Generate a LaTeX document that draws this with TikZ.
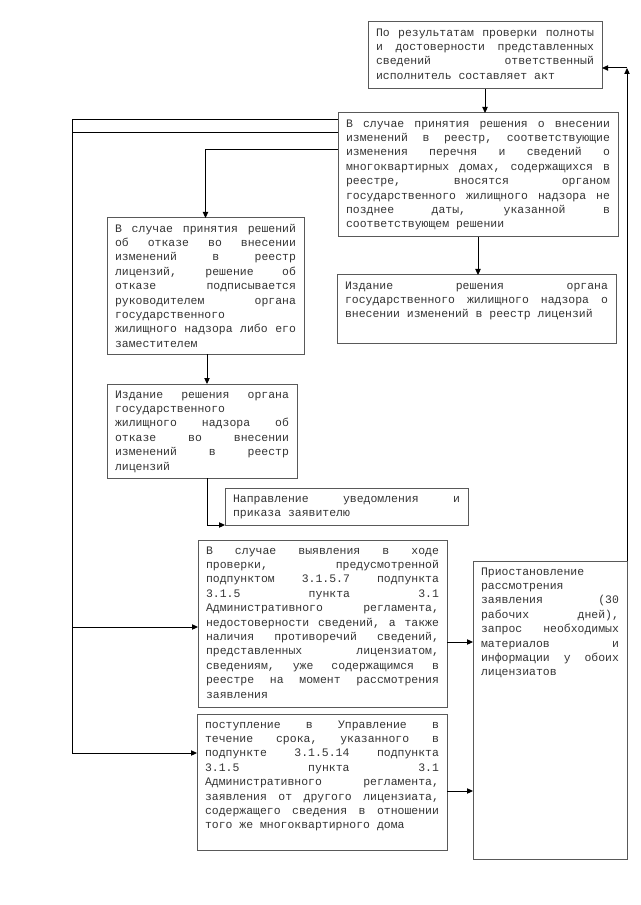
\documentclass[tikz,border=0pt]{standalone}
\usepackage{fontspec}
\setmainfont{Liberation Mono}
\usetikzlibrary{arrows.meta}
\definecolor{boxgray}{gray}{0.35}
\definecolor{txtgray}{gray}{0.2}
\frenchspacing
\newcommand\jline[1]{\hbox to\linewidth{\spaceskip=0.6em plus 1fil\relax\strut #1}}
\newcommand\lline[1]{\hbox{\strut #1}}
\newcommand\mkbox[6]{\node[bx] (#1) at (#2,#3) {\parbox[c][\dimexpr0.75pt*#5-6pt\relax][t]{\dimexpr0.75pt*#4-12pt\relax}{#6}};}
\begin{document}
\begin{tikzpicture}[x=0.75pt,y=-0.75pt,
  bx/.style={draw=boxgray, text=txtgray, line width=0.75pt, anchor=north west, inner xsep=6pt, inner ysep=3pt, outer sep=0pt, font=\fontsize{8.6}{10.8}\selectfont},
  arr/.style={draw=black, line width=0.75pt, -{Triangle[length=4.5pt,width=4pt]}},
  ln/.style={draw=black, line width=0.75pt}]
\useasboundingbox (0,0) rectangle (640,905);

\mkbox{b1}{368}{22}{234}{67}{%
\jline{По результатам проверки полноты}
\jline{и достоверности представленных}
\jline{сведений ответственный}
\lline{исполнитель составляет акт}}

\mkbox{b2}{338}{113}{280}{124}{%
\jline{В случае принятия решения о внесении}
\jline{изменений в реестр, соответствующие}
\jline{изменения перечня и сведений о}
\jline{многоквартирных домах, содержащихся в}
\jline{реестре, вносятся органом}
\jline{государственного жилищного надзора не}
\jline{позднее даты, указанной в}
\lline{соответствующем решении}}

\mkbox{b3}{337}{275}{279}{68}{%
\jline{Издание решения органа}
\jline{государственного жилищного надзора о}
\lline{внесении изменений в реестр лицензий}}

\mkbox{b4}{107}{218}{197}{136}{%
\jline{В случае принятия решений}
\jline{об отказе во внесении}
\jline{изменений в реестр}
\jline{лицензий, решение об}
\jline{отказе подписывается}
\jline{руководителем органа}
\lline{государственного}
\jline{жилищного надзора либо его}
\lline{заместителем}}

\mkbox{b5}{107}{384}{190}{94}{%
\jline{Издание решения органа}
\lline{государственного}
\jline{жилищного надзора об}
\jline{отказе во внесении}
\jline{изменений в реестр}
\lline{лицензий}}

\mkbox{b6}{225}{488}{243}{37}{%
\jline{Направление уведомления и}
\lline{приказа заявителю}}

\mkbox{b7}{198}{540}{249}{167}{%
\jline{В случае выявления в ходе}
\jline{проверки, предусмотренной}
\jline{подпунктом 3.1.5.7 подпункта}
\jline{3.1.5 пункта 3.1}
\jline{Административного регламента,}
\jline{недостоверности сведений, а также}
\jline{наличия противоречий сведений,}
\jline{представленных лицензиатом,}
\jline{сведениям, уже содержащимся в}
\jline{реестре на момент рассмотрения}
\lline{заявления}}

\mkbox{b8}{197}{714}{250}{136}{%
\jline{поступление в Управление в}
\jline{течение срока, указанного в}
\jline{подпункте 3.1.5.14 подпункта}
\jline{3.1.5 пункта 3.1}
\jline{Административного регламента,}
\jline{заявления от другого лицензиата,}
\jline{содержащего сведения в отношении}
\lline{того же многоквартирного дома}}

\mkbox{b9}{473}{561}{154}{298}{%
\lline{Приостановление}
\lline{рассмотрения}
\jline{заявления (30}
\jline{рабочих дней),}
\jline{запрос необходимых}
\jline{материалов и}
\jline{информации у обоих}
\lline{лицензиатов}}

\coordinate (bl1) at (72,120);
\coordinate (bl2) at (72,133);
\coordinate (bl7) at (72,627);
\coordinate (bl8) at (72,753);
\coordinate (bt4) at (0,150);
\coordinate (r7) at (0,642);
\coordinate (r8) at (0,791);
\coordinate (up) at (627,68);
\coordinate (d5) at (207,0);

\draw[arr] (b1.south) -- (b1.south |- b2.north);
\draw[arr] (b2.south) -- (b2.south |- b3.north);
\draw[ln] (bl1 -| b2.west) -- (bl1) -- (bl8);
\draw[ln] (bl2 -| b2.west) -- (bl2);
\draw[arr] (bl7) -- (bl7 -| b7.west);
\draw[arr] (bl8) -- (bl8 -| b8.west);
\draw[arr] (bt4 -| b2.west) -| (b4.north);
\draw[arr] (d5 |- b4.south) -- (d5 |- b5.north);
\draw[arr] (d5 |- b5.south) |- (b6.south west);
\draw[arr] (r7 -| b7.east) -- (r7 -| b9.west);
\draw[arr] (r8 -| b8.east) -- (r8 -| b9.west);
\draw[arr] (b9.north east) -- (up);
\draw[arr] (up) -- (up -| b1.east);
\end{tikzpicture}
\end{document}
